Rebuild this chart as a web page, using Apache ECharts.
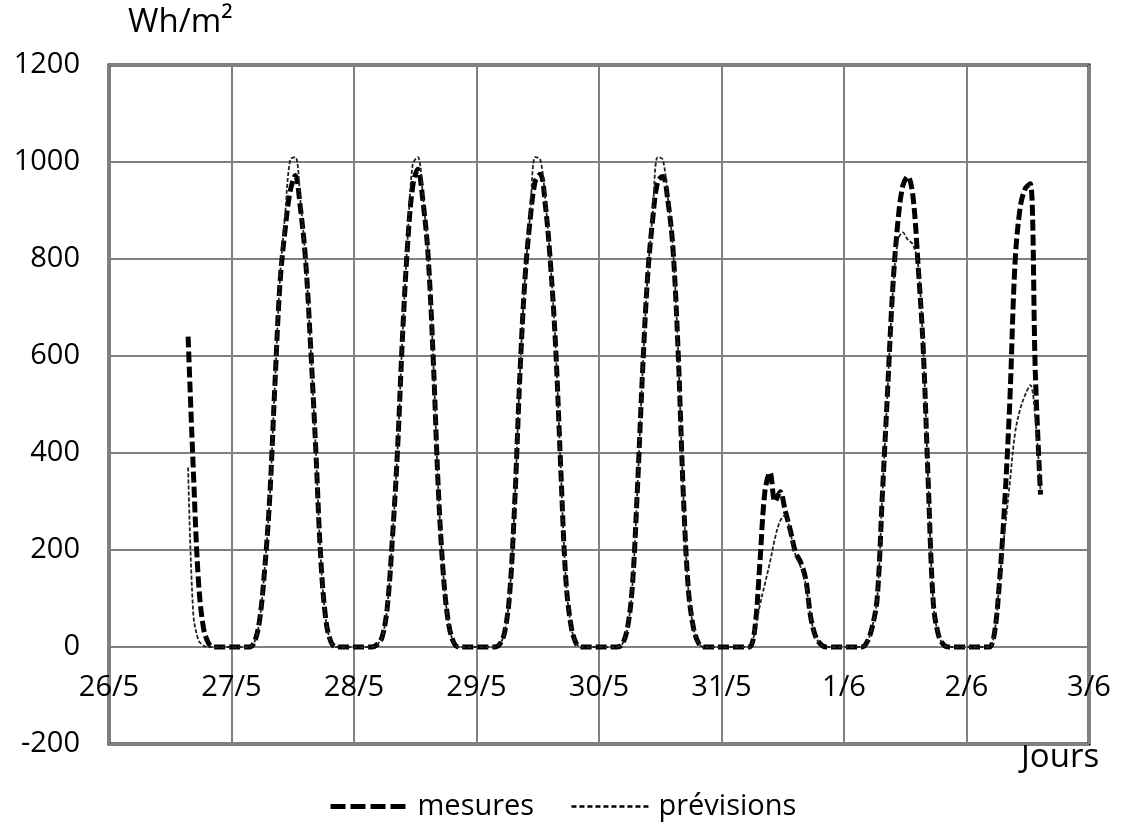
<!DOCTYPE html>
<html>
<head>
<meta charset="utf-8">
<script src="https://cdn.jsdelivr.net/npm/echarts@6/dist/echarts.min.js"></script>
<style>
  html, body { margin: 0; background: #fff; }
  #chart { width: 1121px; height: 828px; }
</style>
</head>
<body>
<div id="chart"></div>
<script>
// x axis labels, one every 24 hours starting 26/5 00:00
var dayLabels = ["26/5", "27/5", "28/5", "29/5", "30/5", "31/5", "1/6", "2/6", "3/6"];

// hourly values, first one at 26/5 15:30 (hour 15.5)
var firstHour = 15.5;

var mesures = [
  640, 370, 140, 40, 8, 0, 0, 0, 0,
  0, 0, 0, 0, 10, 55, 160, 310, 540, 750, 860, 940, 972, 905, 800, 620, 410, 180, 55, 10, 0, 0, 0, 0,
  0, 0, 0, 0, 5, 20, 80, 220, 400, 640, 830, 950, 985, 920, 810, 600, 330, 150, 50, 10, 0, 0, 0, 0,
  0, 0, 0, 0, 5, 30, 110, 300, 560, 760, 880, 960, 975, 910, 790, 620, 370, 140, 45, 8, 0, 0, 0, 0,
  0, 0, 0, 0, 5, 35, 120, 320, 560, 760, 880, 960, 970, 920, 820, 610, 320, 120, 40, 8, 0, 0, 0, 0,
  0, 0, 0, 0, 0, 0, 35, 170, 320, 360, 300, 320, 280, 240, 195, 175, 140, 60, 20, 5, 0, 0, 0, 0,
  0, 0, 0, 0, 10, 40, 100, 310, 520, 730, 870, 950, 970, 930, 790, 620, 340, 90, 25, 5, 0, 0, 0, 0,
  0, 0, 0, 0, 0, 30, 140, 300, 510, 790, 905, 945, 955, 560, 314
];

var previsions = [
  370, 70, 15, 3, 0, 0, 0, 0, 0,
  0, 0, 0, 0, 10, 55, 160, 310, 540, 760, 890, 1005, 1010, 920, 800, 620, 410, 180, 55, 10, 0, 0, 0, 0,
  0, 0, 0, 0, 5, 20, 80, 220, 400, 640, 840, 995, 1010, 930, 810, 600, 330, 150, 50, 10, 0, 0, 0, 0,
  0, 0, 0, 0, 5, 30, 110, 300, 560, 760, 890, 1010, 1005, 920, 790, 620, 370, 140, 45, 8, 0, 0, 0, 0,
  0, 0, 0, 0, 5, 35, 120, 320, 560, 760, 890, 1010, 1005, 925, 820, 610, 320, 120, 40, 8, 0, 0, 0, 0,
  0, 0, 0, 0, 0, 0, 30, 85, 130, 175, 225, 260, 272, 235, 190, 165, 130, 60, 20, 5, 0, 0, 0, 0,
  0, 0, 0, 0, 10, 40, 100, 310, 520, 720, 835, 855, 840, 830, 790, 620, 340, 90, 25, 5, 0, 0, 0, 0,
  0, 0, 0, 0, 0, 30, 140, 240, 340, 440, 490, 520, 540, 470, 320
];

function toPoints(arr) {
  return arr.map(function (v, i) { return [firstHour + i, v]; });
}

var font = "Open Sans";
var fs = 29;
var chart = echarts.init(document.getElementById("chart"));

var option = {
  animation: false,
  backgroundColor: "#fff",
  textStyle: { fontFamily: font, color: "#000" },
  grid: {
    left: 109, right: 32, top: 65, bottom: 84,
    show: true, borderColor: "#000", borderWidth: 3
  },
  graphic: [
    { type: "text", left: 128, top: 6, style: { text: "Wh/m²", font: "33px '" + font + "'", fill: "#000" } },
    { type: "text", left: 1021, top: 741, style: { text: "Jours", font: "33px '" + font + "'", fill: "#000" } }
  ],
  legend: {
    left: 323, top: 787,
    itemWidth: 80, itemHeight: 14, itemGap: 36,
    itemStyle: { opacity: 0 },
    textStyle: { fontSize: fs, fontFamily: font, color: "#000", padding: [0, 0, 0, 2] },
    data: [
      { name: "mesures", lineStyle: { color: "#000", width: 5, type: [15, 5] } },
      { name: "prévisions", lineStyle: { color: "#000", width: 2.5, type: [5, 3] } }
    ]
  },
  xAxis: {
    type: "value",
    min: 0, max: 192, interval: 24,
    axisLine: { show: false, onZero: false },
    axisTick: { show: false },
    // labels sit just under the zero line, as in the original
    axisLabel: {
      fontSize: fs, fontFamily: font, color: "#000", margin: -71,
      formatter: function (v) { return dayLabels[Math.round(v / 24)]; }
    },
    splitLine: { lineStyle: { color: "#808080", width: 2 } }
  },
  yAxis: {
    type: "value",
    min: -200, max: 1200, interval: 200,
    axisLine: { show: true, onZero: false, lineStyle: { color: "#808080", width: 2 } },
    axisTick: { show: false },
    axisLabel: {
      fontSize: fs, fontFamily: font, color: "#000", margin: 29,
      formatter: function (v) { return String(v); }
    },
    splitLine: { lineStyle: { color: "#808080", width: 2 } }
  },
  series: [
    {
      name: "mesures", type: "line", data: toPoints(mesures),
      smooth: 0.35, showSymbol: false, symbol: "none",
      lineStyle: { color: "#000", width: 5, type: [11, 4] },
      itemStyle: { color: "#000" }
    },
    {
      name: "prévisions", type: "line", data: toPoints(previsions),
      smooth: 0.35, showSymbol: false, symbol: "none",
      lineStyle: { color: "#222", width: 1.8, type: [4, 2] },
      itemStyle: { color: "#000" }
    }
  ]
};

chart.setOption(option);
</script>
</body>
</html>
